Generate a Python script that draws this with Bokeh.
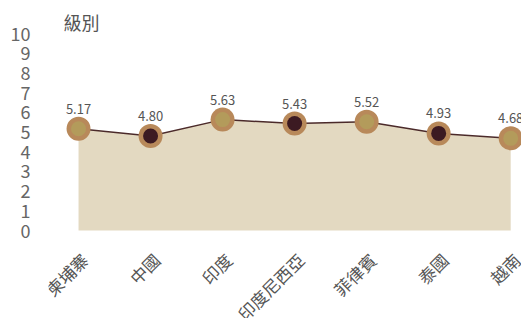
import math
from bokeh.plotting import figure
from bokeh.models import ColumnDataSource, FixedTicker, LabelSet, Label, Range1d
from bokeh.core.properties import value
from bokeh.embed import file_html
from bokeh.resources import INLINE

countries = ["柬埔寨", "中國", "印度", "印度尼西亞", "菲律賓", "泰國", "越南"]
levels = [5.17, 4.80, 5.63, 5.43, 5.52, 4.93, 4.68]
y_ticks = [0, 1, 2, 3, 4, 5, 6, 7, 8, 9, 10]
inner_colors = ["#b39b5b", "#3c1a22", "#b39b5b", "#3c1a22", "#b39b5b", "#3c1a22", "#b39b5b"]

FONT = "Noto Sans CJK TC"
xs = list(range(len(countries)))
src = ColumnDataSource(dict(
    x=xs, y=levels, zero=[0] * len(levels), name=countries,
    lbl=[f"{v:.2f}" for v in levels], inner=inner_colors,
))

# frame extends below zero so the rotated category labels sit inside it
p = figure(width=521, height=318, output_backend="svg", toolbar_location=None,
           x_range=Range1d(-0.417, 6.15), y_range=Range1d(-4.467, 11.17),
           min_border_left=48, min_border_right=0, min_border_top=10, min_border_bottom=0)
p.outline_line_color = None
p.grid.visible = False

p.varea(x="x", y1="zero", y2="y", source=src, fill_color="#e3d9c1")
p.line(x="x", y="y", source=src, line_color="#4b2a2a", line_width=1.5)
p.scatter(x="x", y="y", source=src, size=24, fill_color="#b8895a", line_color=None)
p.scatter(x="x", y="y", source=src, size=15, fill_color="inner", line_color=None)

labels = LabelSet(x="x", y="y", text="lbl", source=src, y_offset=20,
                  text_align="center", text_baseline="middle",
                  text_font=value(FONT), text_font_size=value("13px"), text_color="#555555")
p.add_layout(labels)

cat_labels = LabelSet(x="x", y="zero", text="name", source=src, x_offset=6, y_offset=-26,
                      angle=math.pi / 4, text_align="right", text_baseline="middle",
                      text_font=value(FONT), text_font_size=value("17px"), text_color="#555555")
p.add_layout(cat_labels)

p.add_layout(Label(x=-0.21, y=10.57, text="級別", text_align="left", text_baseline="middle",
                   text_font=FONT, text_font_size="18px", text_color="#555555"))

yax = p.yaxis[0]
yax.ticker = FixedTicker(ticks=y_ticks)
yax.axis_line_color = None
yax.major_tick_line_color = None
yax.minor_tick_line_color = None
yax.major_label_standoff = 12
yax.major_label_text_font = FONT
yax.major_label_text_font_size = "18px"
yax.major_label_text_color = "#666666"

p.xaxis.visible = False

open("out.html", "w").write(file_html(p, INLINE))
